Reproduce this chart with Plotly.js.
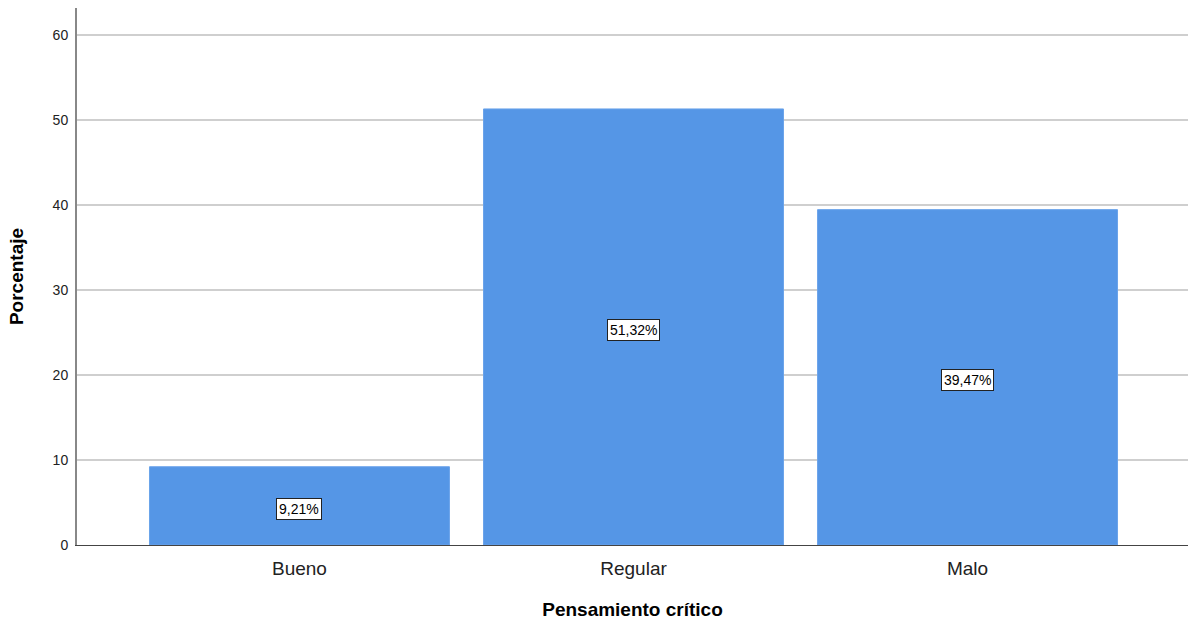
<!DOCTYPE html>
<html><head><meta charset="utf-8">
<script src="https://cdn.plot.ly/plotly-3.0.1.min.js"></script>
<style>html,body{margin:0;padding:0;background:#fff}#c{width:1195px;height:623px}</style>
</head><body><div id="c"></div>
<script>
const categories = ["Bueno", "Regular", "Malo"];
const percentages = [9.21, 51.32, 39.47];
const labels = ["9,21%", "51,32%", "39,47%"];
const yTicks = [0, 10, 20, 30, 40, 50, 60];

const trace = {
  type: 'bar', x: categories, y: percentages,
  marker: {color: '#5596e6', line: {color: '#6aa3ea', width: 1}},
  hoverinfo: 'none'
};
const annotations = categories.map((c, i) => ({
  x: c, y: percentages[i] / 2, xref: 'x', yref: 'y', text: labels[i], showarrow: false,
  yshift: -3,
  font: {family: 'Arial, Liberation Sans, sans-serif', size: 14, color: '#000'},
  bgcolor: '#ffffff', bordercolor: '#222', borderwidth: 1, borderpad: 2
}));
const layout = {
  width: 1195, height: 623,
  margin: {l: 77, r: 7, t: 8, b: 78},
  paper_bgcolor: '#fff', plot_bgcolor: '#fff',
  showlegend: false, bargap: 0.102,
  font: {family: 'Arial, Liberation Sans, sans-serif', color: '#222'},
  xaxis: {
    range: [-0.666, 2.66], showgrid: false, zeroline: false,
    showline: true, linecolor: '#444', linewidth: 1, ticks: '',
    tickfont: {size: 19, color: '#222'}, ticklabelstandoff: 6,
    title: {text: 'Pensamiento crítico', font: {size: 19, color: '#000', weight: 'bold'}, standoff: 24}
  },
  yaxis: {
    range: [0, 63.2], tickvals: yTicks, ticktext: yTicks.map(String),
    showgrid: true, gridcolor: '#cfcfcf', gridwidth: 1.5, zeroline: false,
    showline: true, linecolor: '#888', linewidth: 2, ticks: '',
    tickfont: {size: 14, color: '#222'}, ticklabelstandoff: 4,
    title: {text: 'Porcentaje', font: {size: 19, color: '#000', weight: 'bold'}, standoff: 24}
  },
  annotations: annotations
};
Plotly.newPlot('c', [trace], layout, {staticPlot: true, displayModeBar: false});
</script></body></html>
